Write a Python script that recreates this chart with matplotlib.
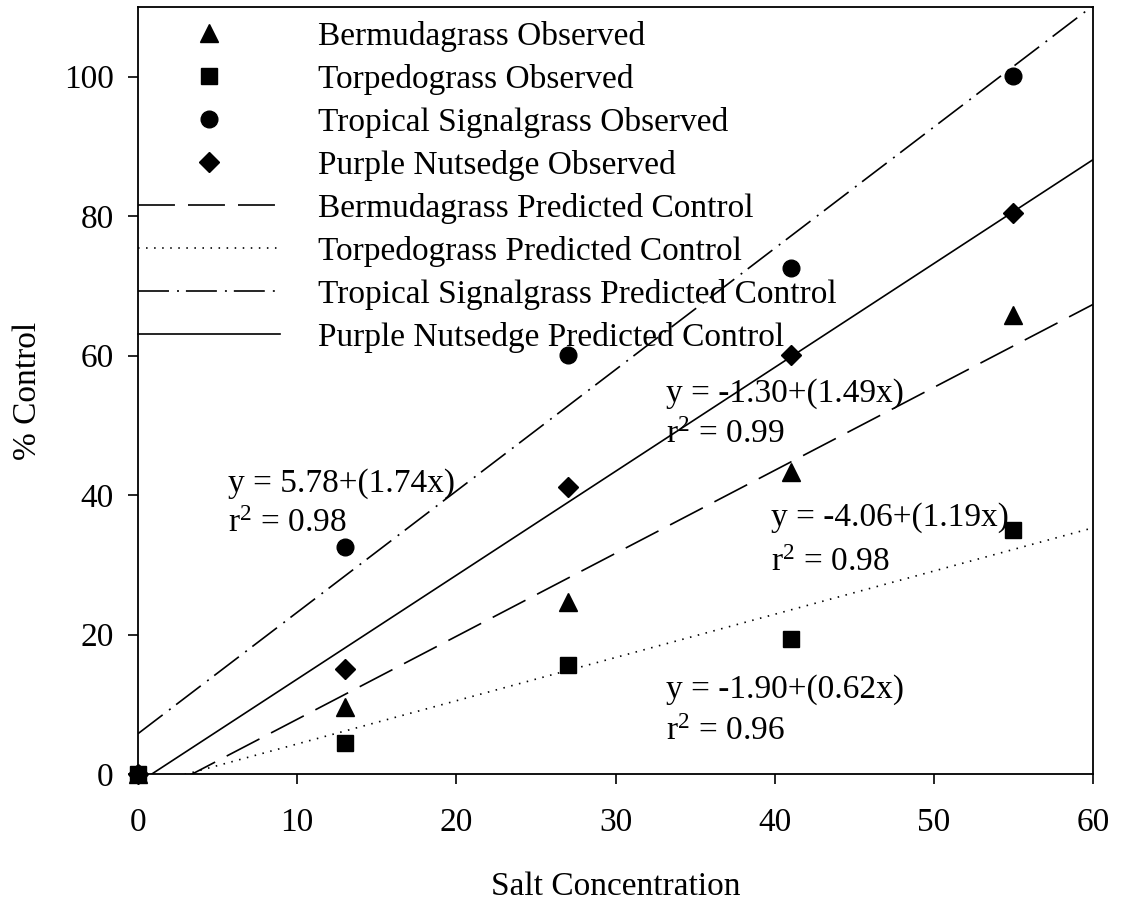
import matplotlib
matplotlib.use("Agg")
import matplotlib.pyplot as plt
import numpy as np

plt.rcParams["font.family"] = ["Liberation Serif", "DejaVu Serif"]
plt.rcParams["mathtext.fontset"] = "custom"
plt.rcParams["mathtext.rm"] = "Liberation Serif"
plt.rcParams["mathtext.it"] = "Liberation Serif:italic"
plt.rcParams["lines.scale_dashes"] = False

# observed data
salt = [0, 13, 27, 41, 55]
bermuda_obs = [0, 9.6, 24.6, 43.3, 65.8]
torpedo_obs = [0, 4.4, 15.6, 19.4, 35.0]
tropical_obs = [0, 32.6, 60.1, 72.6, 100.1]
purple_obs = [0, 15.0, 41.2, 60.1, 80.5]

species = ["Bermudagrass", "Torpedograss", "Tropical Signalgrass", "Purple Nutsedge"]
intercepts = [-4.06, -1.90, 5.78, -1.30]
slopes = [1.19, 0.62, 1.74, 1.49]
r2 = [0.98, 0.96, 0.98, 0.99]

x_range = [0, 60]

fig = plt.figure(figsize=(11.23, 9.05), dpi=100)
ax = fig.add_axes([0.1229, 0.1448, 0.8504, 0.8475])

markers = ["^", "s", "o", "D"]
msizes = [12.5, 11.5, 12, 10.5]
observed = [bermuda_obs, torpedo_obs, tropical_obs, purple_obs]
for name, obs, m, ms in zip(species, observed, markers, msizes):
    ax.plot(salt, obs, ls="none", marker=m, ms=ms, color="black",
            label=name + " Observed", clip_on=False, zorder=3)

dashes = [(26.6, 9.4), (1.1, 4.7), (22.3, 5.8, 1.4, 5.0), None]
for name, a, b, d in zip(species, intercepts, slopes, dashes):
    xs = np.array(x_range, dtype=float)
    line, = ax.plot(xs, a + b * xs, color="black", lw=1.2,
                    label=name + " Predicted Control")
    if d is not None:
        line.set_dashes(d)

# equation labels: (x, baseline of first line, baseline of second line)
label_pos = [(39.8, 35.6, 29.1), (33.2, 10.9, 4.9), (5.65, 40.5, 34.7), (33.2, 53.4, 47.5)]
for a, b, r, (tx, ty1, ty2) in zip(intercepts, slopes, r2, label_pos):
    ax.text(tx, ty1, "y = %.2f+(%.2fx)" % (a, b), fontsize=24, va="baseline")
    ax.text(tx, ty2, "r$^2$ = %.2f" % r, fontsize=24, va="baseline")

ax.set_xlim(0, 60)
ax.set_ylim(0, 110)
ax.set_xticks([0, 10, 20, 30, 40, 50, 60])
ax.set_yticks([0, 20, 40, 60, 80, 100])
ax.tick_params(direction="out", length=7.5, width=1.2, labelsize=24)
ax.tick_params(axis="x", pad=17)
ax.tick_params(axis="y", pad=10)
for s in ax.spines.values():
    s.set_linewidth(1.3)

ax.set_xlabel("Salt Concentration", fontsize=24, labelpad=24)
ax.set_ylabel("% Control", fontsize=24, labelpad=15)

ax.legend(loc="upper left", bbox_to_anchor=(0, 0.982), frameon=False, fontsize=24,
          borderpad=0, borderaxespad=0, handlelength=4.27, handletextpad=1.14,
          labelspacing=0.36)

fig.savefig("out.png", dpi=100)
